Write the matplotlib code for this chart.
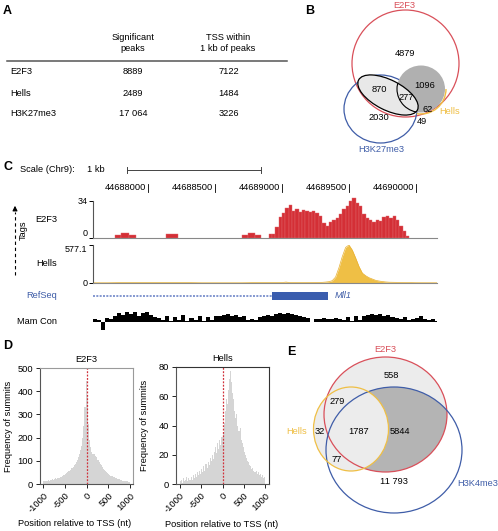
import matplotlib
matplotlib.use('Agg')
import matplotlib.pyplot as plt
import matplotlib.transforms as mtransforms
from matplotlib.patches import Ellipse, Arc, Rectangle
import numpy as np

plt.rcParams['font.family'] = ['Liberation Sans', 'DejaVu Sans']
plt.rcParams['font.size'] = 6.7

# ---- panel A: peak table ----
table_rows = ['E2F3', 'Hells', 'H3K27me3']
sig_peaks = [8889, 2489, 17064]
tss_within = [7122, 1484, 3226]

# ---- panel B: E2F3 / Hells / H3K27me3 overlap counts ----
venn_b_counts = [4879, 870, 277, 1096, 62, 49, 2030]

# ---- panel C: genome browser view around Mll1 (Chr9) ----
genome_start, genome_end = 44687590, 44690157
coord_ticks = [44688000, 44688500, 44689000, 44689500, 44690000]
scale_bar = [44687843, 44688843]
e2f3_bump_start = [44687754, 44687800, 44687860, 44688134, 44688701, 44688745, 44688800]
e2f3_bump_end = [44687800, 44687860, 44687910, 44688224, 44688745, 44688800, 44688843]
e2f3_bump_val = [3, 5, 3, 3.5, 3, 5, 3]
e2f3_main_start = 44688900
e2f3_main_bin = 25
e2f3_main_val = [4, 4, 10, 19, 23, 28, 30, 25, 27, 24, 26, 25, 24, 25, 23, 20, 14,
                 11, 15, 17, 18, 22, 27, 29, 34, 37, 32, 29, 22, 18, 17, 15, 17, 16,
                 19, 20, 18, 20, 17, 11, 6, 2]
hells_pos = [44687590, 44687700, 44687800, 44688000, 44688300, 44688400, 44688500,
             44688700, 44688800, 44688950, 44689000, 44689030, 44689060, 44689100,
             44689200, 44689300, 44689325, 44689350, 44689375, 44689400, 44689425,
             44689450, 44689475, 44689500, 44689525, 44689550, 44689575, 44689600,
             44689625, 44689650, 44689675, 44689700, 44689725, 44689750, 44689775,
             44689800, 44689850, 44689900, 44690000, 44690157]
hells_val = [3, 3, 6, 6, 6, 3, 3, 3, 6, 6, 6, 14, 6, 6, 8, 10, 14, 20, 35, 90, 230,
             400, 540, 577, 500, 380, 250, 150, 110, 80, 60, 40, 30, 22, 16, 12, 10,
             8, 4, 3]
exon_start, exon_end = 44688925, 44689343
mamcon_bin = 30
mamcon_val = [0.3, 0.2, -0.8, 0.4, 0.3,
              0.6, 0.9, 0.7, 1.0, 0.8, 1.0, 0.6, 0.9, 1.0, 0.7, 0.5, 0.4,
              0.2, 0.6, 0.1, 0.5, 0.2, 0.7, 0.1, 0.4, 0.2, 0.6, 0.1, 0.5, 0.2, 0.6,
              0.6, 0.7, 0.8, 0.6, 0.7, 0.5, 0.6,
              0.2, 0.3, 0.2, 0.5,
              0.6, 0.7, 0.6, 0.8, 0.9, 0.8, 0.9, 0.8, 0.7, 0.6, 0.5, 0.4,
              0.0,
              0.3, 0.3, 0.4, 0.3, 0.3, 0.4, 0.3, 0.2,
              0.5, 0.1, 0.6, 0.2,
              0.6, 0.7, 0.8, 0.7, 0.8, 0.6, 0.7, 0.5, 0.4,
              0.3, 0.5, 0.2, 0.3, 0.4, 0.6, 0.3, 0.2, 0.3, 0.1]

# ---- panel D: summit positions relative to TSS (25 nt bins, -1000..1000) ----
tss_bin = 25
e2f3_tss = [12, 14, 13, 15, 16, 14, 17, 18, 20, 19,
            22, 24, 23, 26, 28, 30, 32, 34, 38, 40,
            44, 48, 50, 55, 58, 62, 68, 72, 80, 88,
            95, 105, 115, 130, 145, 165, 200, 250, 330, 445,
            380, 260, 190, 160, 140, 130, 128, 130, 122, 115,
            105, 95, 88, 80, 72, 66, 60, 55, 50, 46,
            42, 40, 36, 34, 31, 29, 27, 25, 23, 21,
            20, 18, 17, 15, 14, 13, 12, 11, 10, 9]
hells_tss = [2, 3, 1, 4, 2, 3, 5, 2, 4, 3,
             5, 3, 6, 4, 7, 5, 8, 6, 9, 7,
             10, 8, 12, 9, 14, 11, 15, 13, 18, 16,
             20, 17, 22, 25, 21, 28, 24, 30, 27, 32,
             35, 42, 50, 58, 55, 64, 72, 77, 70, 62,
             58, 50, 45, 48, 40, 36, 38, 30, 28, 25,
             22, 20, 18, 16, 15, 13, 12, 10, 11, 9,
             8, 9, 7, 8, 6, 7, 5, 6, 4, 5]

# ---- panel E: E2F3 / Hells / H3K4me3 overlap counts ----
venn_e_counts = [558, 279, 32, 1787, 5844, 77, 11793]

RED = '#d9505a'
BLUE = '#3f5da8'
YELLOW = '#efbf45'
W, H = 498, 531

fig = plt.figure(figsize=(W / 100, H / 100), dpi=100)


def px_axes(x0, y0, x1, y1):
    return fig.add_axes([x0 / W, 1 - y1 / H, (x1 - x0) / W, (y1 - y0) / H])


def fmt(v):
    return f'{v:,}'.replace(',', ' ') if v >= 10000 else str(v)


# overlay in pixel coordinates for table, venns and labels
ov = fig.add_axes([0, 0, 1, 1])
ov.set_xlim(0, W)
ov.set_ylim(H, 0)
ov.axis('off')

for lab, (x, y) in zip('ABCDE', [(3, 11), (305, 11), (3, 167), (3, 346), (287, 352)]):
    ov.text(x, y, lab, fontsize=9, fontweight='bold', va='center')

# ---- A ----
ov.text(133, 43, 'Significant\npeaks', ha='center', va='center', linespacing=1.35)
ov.text(228, 43, 'TSS within\n1 kb of peaks', ha='center', va='center', linespacing=1.35)
ov.plot([7, 287], [61, 61], color='#555555', lw=1.1)
for i, row in enumerate(table_rows):
    y = 72 + 21 * i
    ov.text(10, y, row, va='center')
    ov.text(133, y, fmt(sig_peaks[i]), ha='center', va='center')
    ov.text(229, y, fmt(tss_within[i]), ha='center', va='center')

# ---- B ----
ov.add_patch(Ellipse((405.5, 63.5), 107, 107, fill=False, ec=RED, lw=0.9))
ov.add_patch(Ellipse((380.5, 109), 73, 68, fill=False, ec=BLUE, lw=0.9))
ov.add_patch(Ellipse((421, 89), 48, 47, fc='#b0b0b0', ec='none'))
ov.add_patch(Arc((421, 89), 50, 50, theta1=0, theta2=100, color=YELLOW, lw=1))
lens = Ellipse((388, 95), 66, 30, angle=27, fc='#e8e8e8', ec='k', lw=0.9)
ov.add_patch(lens)
inner = Ellipse((421, 89), 48, 47, fill=False, ec='k', lw=0.8)
ov.add_patch(inner)
inner.set_clip_path(lens)
for v, (x, y) in zip(venn_b_counts, [(405, 53), (379, 89), (406, 98), (425, 86),
                                     (428, 109), (422, 121), (379, 118)]):
    ov.text(x, y, fmt(v), ha='center', va='center')
ov.text(404, 5, 'E2F3', color=RED, ha='center', va='center')
ov.text(381, 150, 'H3K27me3', color=BLUE, ha='center', va='center')
ov.text(439, 112, 'Hells', color=YELLOW, ha='left', va='center')

# ---- C ----
tr_e2f3 = px_axes(93, 201, 437, 238)
tr_hells = px_axes(93, 245, 437, 283)
tr_ref = px_axes(93, 289, 437, 303)
tr_con = px_axes(93, 308, 437, 333)
for ax in (tr_e2f3, tr_hells, tr_ref, tr_con):
    ax.set_xlim(genome_start, genome_end)
    ax.set_xticks([])
    for s in ('top', 'right'):
        ax.spines[s].set_visible(False)
    ax.patch.set_alpha(0)

hdr = mtransforms.blended_transform_factory(tr_e2f3.transData, ov.transData)
ov.text(20, 170, 'Scale (Chr9):', va='center')
ov.text(87, 170, '1 kb', va='center')
ov.plot(scale_bar, [170, 170], color='#444444', lw=0.7, transform=hdr)
for b in scale_bar:
    ov.plot([b, b], [167, 173], color='#444444', lw=0.7, transform=hdr)
for p in coord_ticks:
    ov.text(p - 15, 188, str(p), ha='right', va='center', transform=hdr)
    ov.plot([p, p], [184, 192], color='k', lw=0.6, transform=hdr)

e2f3_start = list(e2f3_bump_start) + [e2f3_main_start + e2f3_main_bin * i
                                      for i in range(len(e2f3_main_val))]
e2f3_width = [e - s for s, e in zip(e2f3_bump_start, e2f3_bump_end)] + \
    [e2f3_main_bin] * len(e2f3_main_val)
e2f3_height = list(e2f3_bump_val) + list(e2f3_main_val)
tr_e2f3.bar(e2f3_start, e2f3_height, width=e2f3_width, align='edge',
            color='#d42f36', edgecolor='#e0676c', lw=0.3, clip_on=False)
tr_e2f3.set_ylim(0, 34)
tr_e2f3.set_yticks([0, 34])

tr_hells.fill_between(hells_pos, hells_val, color=YELLOW, lw=0)
tr_hells.plot(hells_pos, hells_val, color='#e8b030', lw=0.5)
tr_hells.set_ylim(0, 577.1)
tr_hells.set_yticks([0, 577.1])
tr_hells.set_yticklabels(['0', '577.1'])

for ax in (tr_e2f3, tr_hells):
    ax.spines['left'].set_color('#555555')
    ax.spines['bottom'].set_color('#888888')
    ax.spines['left'].set_linewidth(0.8)
    ax.tick_params(axis='y', length=3, width=0.7, pad=1, labelsize=6.5)
# keep the E2F3 zero and the Hells maximum apart, as in the browser shot
tr_e2f3.get_yticklabels()[0].set_va('bottom')
tr_hells.get_yticklabels()[1].set_va('top')

tr_ref.axis('off')
tr_ref.set_ylim(0, 1)
tr_ref.plot([genome_start, exon_start], [0.5, 0.5], color='#6f86c8', lw=1.2,
            ls=(0, (1.2, 0.8)))
tr_ref.add_patch(Rectangle((exon_start, 0.22), exon_end - exon_start, 0.56,
                           color='#3a5dae', lw=0))
tr_ref.text(exon_end + 50, 0.5, 'Mll1', color=BLUE, style='italic', va='center')

tr_con.axis('off')
tr_con.set_ylim(-1.1, 1.4)
tr_con.bar([genome_start + mamcon_bin * i for i in range(len(mamcon_val))],
           mamcon_val, width=mamcon_bin, align='edge', color='k', lw=0)

for lab, y, c in [('E2F3', 219, 'k'), ('Hells', 263, 'k'),
                  ('RefSeq', 296, BLUE), ('Mam Con', 322, 'k')]:
    ov.text(57, y, lab, ha='right', va='center', color=c)
ov.plot([15, 15], [275, 212], color='k', lw=0.8, ls=(0, (3, 2.5)))
ov.annotate('', xy=(15, 203), xytext=(15, 213),
            arrowprops=dict(arrowstyle='-|>', color='k', lw=0.8, mutation_scale=7))
ov.text(23, 230, 'Tags', rotation=90, ha='center', va='center')

# ---- D ----
bin_left = np.arange(-1000, 1000, tss_bin)
h_e2f3 = px_axes(40, 368, 133, 484)
h_hells = px_axes(176, 367, 269, 484)
for ax, vals, ymax, yt, title, xl, fcol, xlc in [
        (h_e2f3, e2f3_tss, 500, range(0, 501, 100), 'E2F3', (-1075, 1070), '#9a9a9a', 0.37),
        (h_hells, hells_tss, 80, range(0, 81, 20), 'Hells', (-1090, 1090), '#333333', 0.49)]:
    ax.bar(bin_left, vals, width=tss_bin, align='edge', color='#d5d5d5', lw=0)
    ax.axvline(0, color='#d0303a', ls=(0, (1.5, 1.2)), lw=0.9)
    ax.set_xlim(*xl)
    ax.set_ylim(0, ymax)
    ax.set_yticks(list(yt))
    ax.set_xticks([-1000, -500, 0, 500, 1000])
    ax.set_xticklabels(['-1000', '-500', '0', '500', '1000'], rotation=45,
                       ha='right', rotation_mode='anchor')
    ax.tick_params(length=3, width=0.6, pad=2, labelsize=6.7)
    for s in ax.spines.values():
        s.set_color(fcol)
        s.set_linewidth(0.8)
    ax.spines['left'].set_color('#555555')
    ax.spines['bottom'].set_color('#555555')
    ax.set_title(title, fontsize=6.7, pad=4)
    ax.set_ylabel('Frequency of summits', fontsize=6.7)
    ax.yaxis.set_label_coords(-0.29, 0.5)
    ax.set_xlabel('Position relative to TSS (nt)', fontsize=6.7)
    ax.xaxis.set_label_coords(xlc, -0.305)

# ---- E ----
c_e2f3 = ((385.5, 414.5), 123, 115)
c_k4 = ((394, 450), 136, 126)
c_hells = ((351, 429), 75, 84)
red_fill = Ellipse(*c_e2f3, fc='#ececec', ec='none')
ov.add_patch(red_fill)
dark = Ellipse(*c_k4, fc='#b4b4b4', ec='none')
ov.add_patch(dark)
dark.set_clip_path(red_fill)
ov.add_patch(Ellipse(*c_hells, fc='#ececec', ec='none'))
ov.add_patch(Ellipse(*c_e2f3, fill=False, ec=RED, lw=0.9))
ov.add_patch(Ellipse(*c_k4, fill=False, ec=BLUE, lw=0.9))
ov.add_patch(Ellipse(*c_hells, fill=False, ec=YELLOW, lw=0.9))
for v, (x, y) in zip(venn_e_counts, [(391, 375), (337, 402), (320, 431), (359, 431),
                                     (400, 431), (337, 459), (394, 482)]):
    ov.text(x, y, fmt(v), ha='center', va='center')
ov.text(385, 350, 'E2F3', color=RED, ha='center', va='center')
ov.text(297, 431, 'Hells', color=YELLOW, ha='center', va='center')
ov.text(457, 483, 'H3K4me3', color=BLUE, ha='left', va='center')

fig.savefig('out.png', dpi=100)
